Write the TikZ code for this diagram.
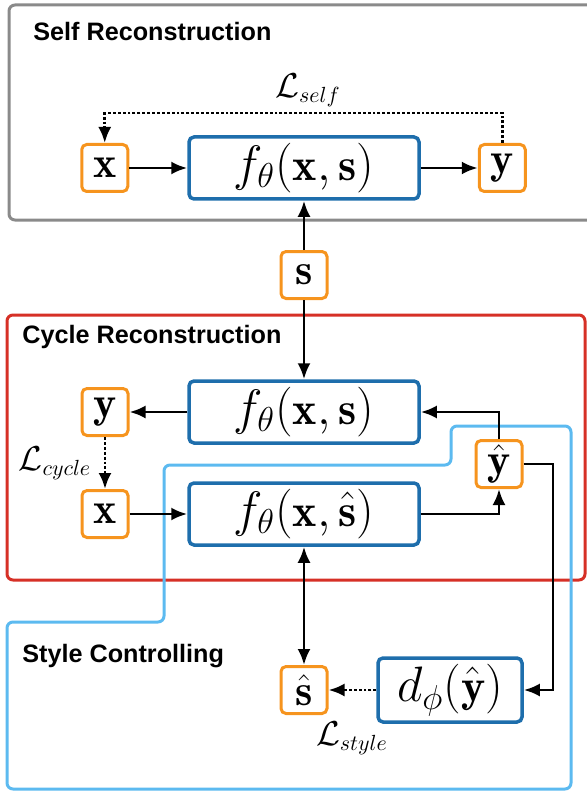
\documentclass[tikz,border=0pt]{standalone}
\usepackage{amsmath}
\usepackage{fontspec}
\setsansfont{Liberation Sans}
\usepackage{tikz}
\usetikzlibrary{shapes,arrows.meta,positioning}

\definecolor{varorange}{RGB}{246,148,30}
\definecolor{netblue}{RGB}{30,110,172}
\definecolor{ctrlblue}{RGB}{92,186,240}
\definecolor{cyclered}{RGB}{214,48,38}
\definecolor{selfgray}{RGB}{138,138,138}

\begin{document}
\begin{tikzpicture}[x=0.5pt, y=-0.5pt, auto]
    % Define block styles
    \tikzstyle{var} = [rectangle, draw=varorange, line width=1.5pt, fill=white, rounded corners=2.5pt, minimum width=23pt, minimum height=23.5pt, inner sep=0pt, font=\fontsize{22}{26}\selectfont]
    \tikzstyle{block} = [rectangle, draw=netblue, line width=1.75pt, fill=white, rounded corners=2.5pt, minimum width=115pt, minimum height=31pt, inner sep=0pt, font=\fontsize{23}{27}\selectfont]
    \tikzstyle{loss} = [font=\fontsize{16}{19}\selectfont, inner sep=1pt]
    \tikzstyle{title} = [font=\sffamily\bfseries\fontsize{12.6}{15}\selectfont, anchor=west, inner sep=0pt]
    \tikzstyle{group} = [draw, line width=1.5pt, rounded corners=3pt]
    \tikzstyle{line} = [draw, line width=1.45pt, -{Latex[length=8pt,width=6.5pt]}]
    \tikzstyle{lossline} = [draw, line width=1.45pt, densely dotted, -{Latex[length=8pt,width=6.5pt]}]

    \useasboundingbox (0,0) rectangle (587,791);

    % Groups
    \path [group, draw=selfgray] (9,5) rectangle (600,220);
    \path [group, draw=cyclered] (7,315) rectangle (585,580);
    \path [group, draw=ctrlblue] (451,426) -- (571,426) -- (571,789) -- (7,789) -- (7,622)
        -- (164,622) -- (164,465) -- (451,465) -- cycle;

    \node [title] (Self_Title) at (33,31) {Self Reconstruction};
    \node [title] (Cycle_Title) at (22,337) {Cycle Reconstruction};
    \node [title] (Style_Title) at (22,656) {Style Controlling};

    % Nodes
    \node [block] (F_Self) at (304,168) {$f_\theta(\mathbf{x},\mathbf{s})$};
    \node [var, left=29pt of F_Self] (X_Self) {$\mathbf{x}$};
    \node [var, right=28.5pt of F_Self] (Y_Self) {$\mathbf{y}$};
    \node [var] (S) at (304,275) {$\mathbf{s}$};

    \node [block] (F_Cycle) at (304,412) {$f_\theta(\mathbf{x},\mathbf{s})$};
    \node [block] (F_Style) at (304,514) {$f_\theta(\mathbf{x},\hat{\mathbf{s}})$};
    \node [var] (Y_Cycle) at (105,412) {$\mathbf{y}$};
    \node [var] (X_Cycle) at (105,514) {$\mathbf{x}$};
    \node [var] (Y_Hat) at (499,464) {$\hat{\mathbf{y}}$};

    \node [var] (S_Hat) at (304,690) {$\hat{\mathbf{s}}$};
    \node [block, minimum width=72pt, minimum height=32pt] (D_Style) at (450,690) {$d_\phi(\hat{\mathbf{y}})$};

    \coordinate (Self_Top) at (305,113);
    \coordinate (Turn) at (553,464);

    \node [loss] (L_Self) at (308,90) {$\mathcal{L}_{self}$};
    \node [loss] (L_Cycle) at (55,463) {$\mathcal{L}_{cycle}$};
    \node [loss] (L_Style) at (352,738) {$\mathcal{L}_{style}$};

    % Arrows
    \path [line] (X_Self.east) -- (F_Self.west);
    \path [line] (F_Self.east) -- (Y_Self.west);
    \path [lossline] (Y_Self.north) |- (Self_Top) -| (X_Self.north);
    \path [line] (S.north) -- (F_Self.south);
    \path [line] (S.south) -- (F_Cycle.north);
    \path [line] (F_Cycle.west) -- (Y_Cycle.east);
    \path [lossline] (Y_Cycle.south) -- (X_Cycle.north);
    \path [line] (X_Cycle.east) -- (F_Style.west);
    \path [line] (F_Style.east) -| (Y_Hat.south);
    \path [line] (Y_Hat.north) |- (F_Cycle.east);
    \path [line] (Y_Hat.east) -- (Turn) |- (D_Style.east);
    \path [line, {Latex[length=8pt,width=6.5pt]}-{Latex[length=8pt,width=6.5pt]}] (F_Style.south) -- (S_Hat.north);
    \path [lossline] (D_Style.west) -- (S_Hat.east);

\end{tikzpicture}
\end{document}
